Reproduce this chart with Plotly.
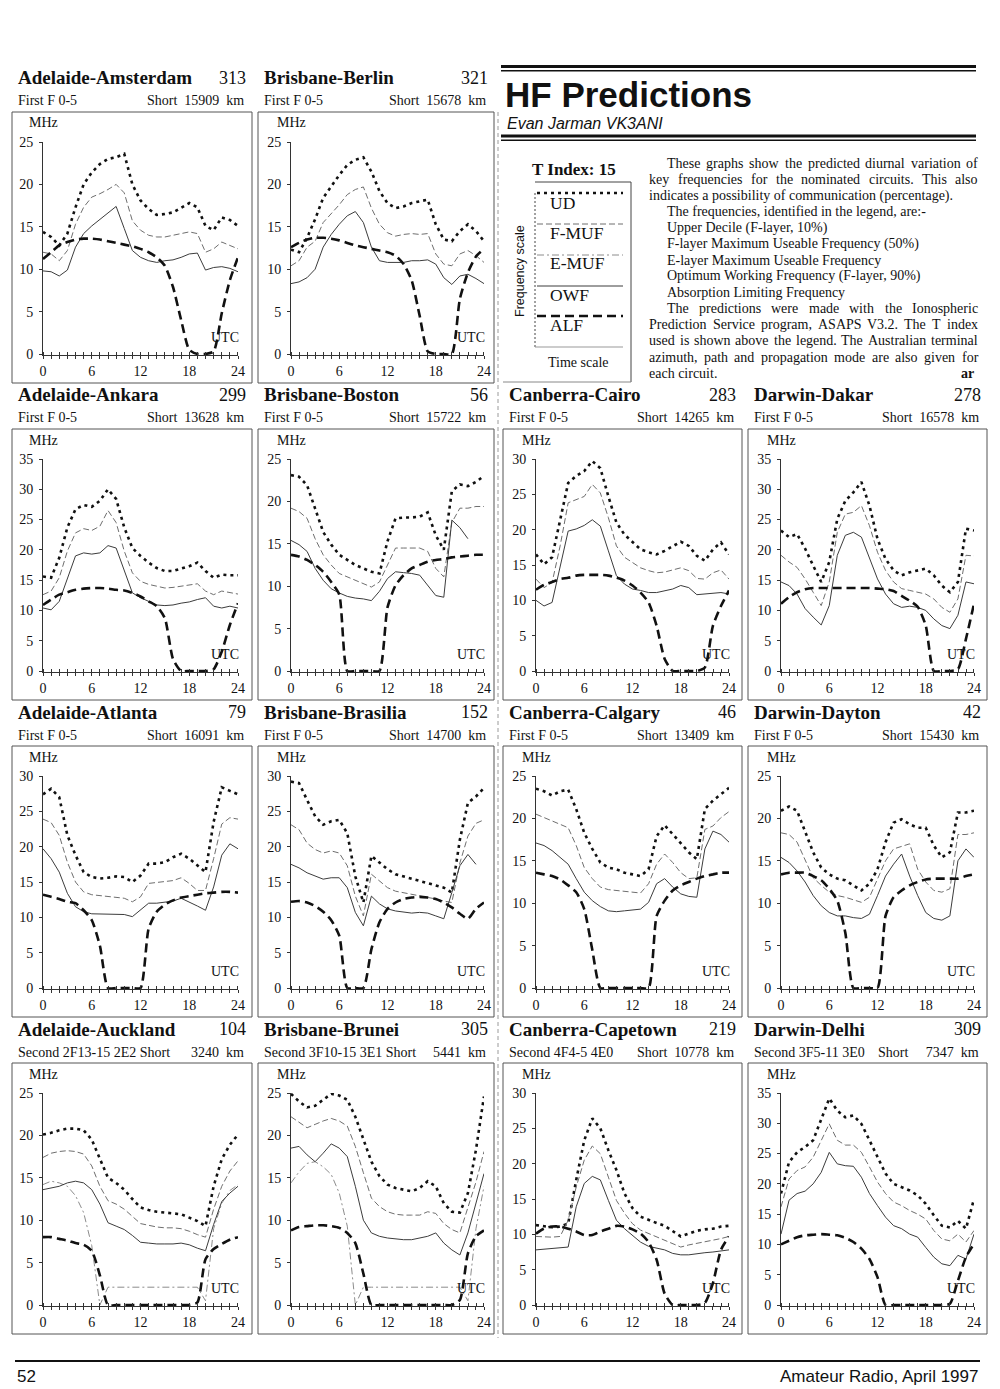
"""
HF Predictions - Amateur Radio, April 1997, page 52.

Quatorze petits graphes de prévision HF (UD, F-MUF, E-MUF, OWF, ALF)
sur 24 heures UTC, avec l'en-tête, la légende et le texte de la page.
"""

import plotly.graph_objects as go

#### Données

HOURS = list(range(25))
HOUR_TEXT = [str(h) if h % 6 == 0 else "" for h in HOURS]

# Adelaide-Amsterdam
ams_ud = [14.4, 13.8, 12.8, 14.2, 17.3, 20.0, 21.4, 22.4, 23.0, 23.2, 23.6, 20.0, 18.1,
          17.1, 16.4, 16.5, 16.7, 17.3, 17.8, 17.3, 15.1, 14.6, 16.1, 15.8, 15.1]
ams_fmuf = [12.0, 11.8, 11.0, 12.2, 15.3, 17.3, 18.5, 18.9, 19.4, 20.0, 19.0, 15.7, 14.6,
            14.0, 13.8, 13.8, 14.0, 14.2, 14.4, 14.2, 12.0, 12.4, 13.2, 12.8, 12.4]
ams_owf = [9.8, 9.7, 9.2, 9.9, 12.6, 14.2, 15.1, 15.9, 16.7, 17.4, 14.8, 12.2, 11.4,
           11.0, 10.8, 11.0, 11.1, 11.4, 11.8, 11.9, 9.9, 10.2, 10.3, 10.1, 9.7]
ams_alf = [11.2, 12.0, 12.8, 13.2, 13.5, 13.6, 13.6, 13.5, 13.3, 13.1, 12.9, 12.7, 12.4,
           12.0, 11.4, 10.4, 7.9, 4.0, 0.5, 0, 0, 0.3, 4.8, 8.7, 11.4]

# Brisbane-Berlin
ber_ud = [12.3, 12.0, 13.7, 15.9, 18.4, 19.8, 21.1, 22.3, 22.9, 23.2, 21.5, 19.2, 17.8,
          17.2, 17.4, 17.8, 18.0, 18.2, 15.3, 13.5, 13.3, 14.5, 15.3, 14.5, 13.3]
ber_fmuf = [10.4, 11.0, 12.6, 13.3, 15.5, 16.5, 17.6, 18.8, 19.4, 19.7, 17.2, 15.3, 14.3,
            13.9, 14.1, 14.2, 14.1, 14.2, 11.8, 10.6, 10.4, 11.8, 12.2, 11.6, 10.8]
ber_owf = [8.3, 8.5, 9.0, 10.0, 12.6, 14.1, 15.3, 16.3, 16.8, 15.5, 12.6, 11.0, 10.8,
           10.8, 10.8, 11.0, 11.0, 11.1, 10.6, 9.0, 8.2, 9.2, 9.4, 8.9, 8.3]
ber_alf = [12.6, 13.1, 13.5, 13.7, 13.7, 13.6, 13.4, 13.1, 12.8, 12.6, 12.4, 12.2, 12.0,
           11.6, 10.6, 8.7, 4.5, 0.3, 0, 0, 0, 6.5, 9.6, 11.5, 12.4]

# Adelaide-Ankara
ank_ud = [15.6, 15.4, 18.7, 23.7, 26.7, 27.4, 27.1, 28.1, 30.0, 28.4, 23.7, 20.3, 19.0,
          17.9, 17.0, 16.5, 16.5, 16.9, 17.3, 17.9, 16.5, 15.4, 15.9, 15.8, 15.8]
ank_fmuf = [12.6, 13.2, 15.4, 19.8, 22.8, 23.5, 23.2, 23.9, 26.5, 24.5, 19.8, 16.2, 14.8,
            14.3, 14.0, 13.7, 13.8, 14.0, 14.3, 14.4, 13.2, 12.6, 13.2, 12.9, 12.7]
ank_owf = [10.4, 10.1, 11.5, 15.4, 19.0, 19.5, 19.3, 19.5, 20.7, 20.3, 16.5, 12.9, 12.1,
           11.5, 10.9, 10.8, 10.9, 11.2, 11.4, 11.8, 12.1, 10.7, 10.4, 10.7, 10.4]
ank_alf = [10.9, 11.8, 12.6, 13.0, 13.4, 13.6, 13.7, 13.7, 13.6, 13.4, 13.3, 12.9, 12.3,
           11.5, 10.7, 8.7, 2.0, 0, 0, 0, 0, 0.3, 3.2, 7.6, 11.2]

# Brisbane-Boston
bos_ud = [23.1, 22.9, 21.9, 19.2, 16.4, 14.9, 13.7, 13.1, 12.5, 12.1, 11.7, 11.5, 15.3,
          18.0, 18.1, 18.1, 18.2, 18.7, 16.0, 14.3, 21.2, 22.0, 21.8, 22.3, 23.0]
bos_fmuf = [19.2, 18.8, 18.0, 15.6, 13.7, 12.5, 11.5, 11.1, 10.7, 10.3, 9.9, 10.5, 12.5,
            14.5, 14.5, 14.5, 14.5, 14.1, 12.1, 11.1, 17.5, 19.2, 19.2, 19.4, 19.4]
bos_owf = [15.4, 14.9, 14.1, 12.1, 10.7, 9.7, 9.2, 8.8, 8.6, 8.5, 8.3, 9.4, 10.9,
           11.7, 11.6, 11.5, 11.3, 10.1, 8.9, 8.7, 17.8, 16.9, 15.6, None, None]
bos_alf = [13.7, 13.5, 13.1, 12.5, 11.7, 10.5, 9.0, 0, 0, 0, 0, 0, 7.5,
           10.1, 11.3, 12.1, 12.5, 12.9, 13.1, 13.2, 13.4, 13.5, 13.6, 13.7, 13.7]

# Canberra-Cairo
cai_ud = [16.5, 15.1, 16.1, 21.5, 26.6, 27.6, 28.3, 29.7, 28.7, 24.7, 21.0, 19.3, 18.2,
          17.2, 16.8, 16.5, 17.0, 17.7, 18.3, 17.7, 16.3, 15.6, 17.2, 18.2, 16.5]
cai_fmuf = [13.0, 11.8, 12.5, 17.7, 23.8, 24.3, 24.7, 26.4, 25.2, 21.7, 17.7, 16.1, 15.4,
            14.6, 14.2, 13.9, 14.0, 14.3, 14.6, 14.2, 13.1, 13.0, 13.9, 14.3, 13.0]
cai_owf = [10.0, 9.2, 9.7, 14.9, 19.8, 20.1, 20.6, 21.4, 20.5, 17.0, 13.5, 12.3, 11.6,
           11.4, 11.1, 11.1, 11.4, 11.6, 12.1, 11.8, 10.8, 10.9, 11.0, 11.1, 10.9]
cai_alf = [11.5, 12.2, 12.6, 13.0, 13.2, 13.5, 13.6, 13.6, 13.6, 13.5, 13.2, 12.8, 12.1,
           11.1, 9.7, 6.4, 1.7, 0, 0, 0, 0, 0.5, 6.4, 9.2, 11.4]

# Darwin-Dakar
dak_ud = [23.2, 22.1, 22.6, 20.2, 17.4, 14.7, 18.0, 25.1, 28.1, 29.5, 31.2, 27.3, 21.8,
          18.5, 16.6, 15.8, 16.3, 16.6, 16.9, 15.8, 14.1, 13.0, 14.7, 23.5, 23.2]
dak_fmuf = [19.1, 18.0, 17.1, 15.2, 13.0, 10.8, 14.7, 22.9, 25.9, 26.2, 27.3, 24.0, 19.6,
            16.6, 14.7, 13.6, 13.3, 13.0, 12.7, 11.9, 10.5, 9.7, 11.9, 19.1, 19.0]
dak_owf = [14.7, 14.1, 12.7, 10.3, 8.9, 7.6, 10.8, 19.1, 22.4, 22.9, 22.1, 18.5, 15.2,
           12.7, 11.1, 10.5, 10.7, 10.5, 10.0, 8.6, 7.5, 7.0, 9.2, 14.7, 14.4]
dak_alf = [11.1, 12.2, 13.0, 13.5, 13.7, 13.7, 13.7, 13.7, 13.7, 13.7, 13.7, 13.7, 13.6,
           13.5, 13.2, 12.4, 11.6, 10.6, 7.5, 0, 0, 0, 0.3, 5.3, 11.1]

# Adelaide-Atlanta
atl_ud = [27.4, 28.2, 27.0, 21.6, 18.8, 16.4, 15.7, 15.5, 15.6, 15.8, 15.7, 15.0, 15.9,
          17.6, 17.6, 17.8, 18.5, 19.0, 18.3, 17.3, 16.4, 23.5, 28.4, 27.9, 27.4]
atl_fmuf = [23.9, 23.4, 21.6, 17.8, 15.0, 13.6, 13.2, 13.1, 13.0, 12.9, 12.7, 12.2, 12.9,
            14.8, 14.9, 15.0, 15.2, 15.6, 14.8, 13.8, 13.8, 18.3, 23.2, 24.1, 23.9]
atl_owf = [19.7, 18.3, 16.4, 13.4, 11.5, 10.8, 10.5, 10.5, 10.4, 10.5, 10.4, 10.1, 11.0,
           12.0, 12.0, 12.1, 12.3, 12.7, 12.2, 11.6, 11.0, 14.3, 18.8, 20.4, 19.7]
atl_alf = [13.2, 12.9, 12.6, 12.2, 12.0, 11.0, 9.6, 6.0, 0, 0, 0, 0, 0,
           8.4, 10.8, 11.8, 12.4, 12.8, 13.0, 13.2, 13.4, 13.5, 13.6, 13.6, 13.5]

# Brisbane-Brasilia
bra_ud = [29.2, 29.0, 26.6, 24.3, 23.1, 23.6, 23.8, 21.9, 15.8, 12.1, 18.7, 17.7, 16.8,
          16.1, 15.8, 15.4, 15.1, 14.9, 14.5, 14.2, 13.5, 21.0, 26.2, 27.1, 28.3]
bra_fmuf = [23.1, 22.4, 20.5, 19.6, 19.1, 19.4, 19.1, 17.3, 13.0, 10.2, 16.1, 15.1, 14.2,
            13.7, 13.5, 13.3, 13.0, 12.8, 12.6, 12.3, 12.1, 17.7, 21.5, 23.3, 23.8]
bra_owf = [17.5, 17.0, 16.3, 15.8, 15.4, 15.6, 15.6, 14.2, 10.7, 8.8, 13.0, 11.9, 11.2,
           10.9, 10.7, 10.6, 10.7, 10.6, 10.2, 9.8, 13.5, 17.3, 18.9, 17.5, None]
bra_alf = [12.2, 12.3, 12.1, 11.6, 10.8, 9.6, 7.4, 0, 0, 0, 5.5, 9.3, 11.2,
           12.1, 12.6, 12.8, 12.9, 12.8, 12.6, 12.1, 11.4, 10.5, 9.8, 11.2, 12.1]

# Canberra-Calgary
cal_ud = [23.5, 23.2, 22.7, 23.2, 23.4, 21.1, 18.3, 16.4, 14.8, 14.2, 14.0, 13.6, 13.4,
          13.2, 14.0, 17.9, 19.2, 18.1, 17.0, 16.0, 15.2, 21.1, 22.1, 22.8, 23.6]
cal_fmuf = [20.5, 20.1, 19.7, 19.3, 18.9, 16.8, 14.2, 12.9, 11.9, 11.6, 11.5, 11.4, 11.3,
            11.2, 12.3, 14.6, 15.8, 14.8, 13.6, 12.9, 13.0, 18.7, 19.1, 20.1, 20.8]
cal_owf = [17.1, 16.8, 16.2, 15.4, 14.6, 12.9, 11.3, 10.3, 9.6, 9.1, 9.0, 9.1, 9.2,
           9.3, 10.1, 12.3, 12.9, 11.9, 11.1, 10.8, 10.7, 16.4, 18.5, 18.1, 17.2]
cal_alf = [13.6, 13.4, 13.2, 12.8, 12.1, 11.3, 9.3, 4.5, 0, 0, 0, 0, 0,
           0, 0, 8.5, 10.3, 11.5, 12.1, 12.5, 12.9, 13.2, 13.4, 13.6, 13.6]

# Darwin-Dayton
day_ud = [20.9, 21.4, 20.9, 18.5, 16.0, 14.2, 13.4, 12.9, 12.7, 12.1, 11.5, 12.3, 14.0,
          17.2, 19.5, 19.9, 19.3, 18.9, 18.9, 16.8, 15.4, 16.0, 20.7, 20.7, 20.9]
day_fmuf = [18.3, 18.1, 17.2, 15.0, 13.0, 12.1, 11.3, 10.9, 10.7, 10.4, 10.1, 10.7, 12.9,
            15.0, 16.4, 16.7, 17.0, 14.0, 12.5, 11.5, 11.3, 11.7, 18.1, 18.1, 18.3]
day_owf = [15.4, 14.8, 13.8, 12.5, 10.9, 9.7, 8.9, 8.5, 8.5, 8.3, 8.2, 8.7, 10.9,
           13.2, 14.6, 15.8, 13.2, 10.9, 8.9, 8.2, 8.0, 8.5, 15.0, 16.4, 15.4]
day_alf = [13.4, 13.6, 13.6, 13.6, 13.2, 12.7, 11.7, 10.3, 6.5, 0, 0, 0, 0,
           8.5, 10.7, 11.5, 12.1, 12.5, 12.8, 12.9, 12.9, 12.9, 12.9, 13.2, 13.4]

# Adelaide-Auckland
auk_ud = [20.1, 20.3, 20.6, 20.8, 20.8, 20.6, 19.5, 17.2, 15.0, 14.4, 13.6, 12.5, 11.5,
          11.2, 11.0, 10.9, 10.8, 10.7, 10.3, 9.9, 9.3, 14.0, 17.2, 18.9, 20.1]
auk_fmuf = [17.4, 17.9, 18.1, 18.2, 18.1, 17.8, 16.4, 14.0, 12.3, 11.9, 11.3, 10.5, 9.6,
            9.4, 9.2, 9.1, 9.1, 9.0, 8.7, 8.3, 8.0, 11.3, 14.0, 15.8, 17.0]
auk_emuf = [14.2, 14.6, 14.4, 14.0, 12.9, 10.9, 7.0, 0, 2.1, 2.1, 2.1, 2.1, 2.1,
            2.1, 2.1, 2.1, 2.1, 2.1, 2.1, 2.1, 0.5, 9.0, 12.0, 13.5, 14.2]
auk_owf = [13.6, 13.8, 14.0, 14.4, 14.6, 14.4, 13.6, 11.9, 9.7, 9.3, 8.9, 8.2, 7.4,
           7.3, 7.2, 7.2, 7.2, 7.3, 7.1, 6.7, 6.4, 9.5, 12.2, 13.2, 14.0]
auk_alf = [8.0, 8.0, 7.8, 7.6, 7.3, 7.1, 6.4, 3.5, 0, 0, 0, 0, 0,
           0, 0, 0, 0, 0, 0, 0.3, 5.4, 6.6, 7.2, 7.7, 8.0]

# Brisbane-Brunei
bru_ud = [24.9, 24.0, 23.3, 23.5, 24.2, 24.9, 24.7, 24.2, 22.2, 19.5, 16.9, 15.2, 14.2,
          13.8, 13.6, 13.4, 13.8, 14.6, 14.0, 12.0, 11.0, 10.9, 13.2, 18.3, 24.6]
bru_fmuf = [22.2, 21.5, 20.9, 21.3, 21.7, 22.0, 21.7, 21.1, 18.7, 15.6, 12.6, 11.6, 11.0,
            10.7, 10.6, 10.6, 10.6, 11.0, 10.8, 9.6, 8.9, 8.5, 11.6, 14.5, 18.1]
bru_emuf = [14.4, 15.7, 16.7, 16.9, 16.3, 15.4, 13.2, 9.3, 0, 2.1, 2.1, 2.1, 2.1,
            2.1, 2.1, 2.1, 2.1, 2.1, 2.1, 2.1, 2.1, 2.1, 0.5, 9.0, 14.0]
bru_owf = [18.5, 18.7, 17.7, 16.9, 17.9, 19.0, 18.5, 17.5, 14.0, 10.0, 8.5, 8.1, 7.9,
           7.8, 7.7, 7.7, 7.9, 8.1, 8.5, 7.3, 6.5, 5.9, 8.5, 12.0, 15.5]
bru_alf = [8.8, 9.2, 9.3, 9.4, 9.4, 9.3, 9.1, 8.5, 7.3, 3.7, 0, 0, 0,
           0, 0, 0, 0, 0, 0, 0, 0, 0.6, 6.1, 8.1, 8.8]

# Canberra-Capetown
cap_ud = [11.3, 11.1, 11.0, 11.1, 11.5, 17.7, 23.3, 26.4, 25.0, 21.9, 19.1, 15.8, 13.7,
          12.5, 12.0, 11.6, 11.2, 10.4, 9.7, 10.1, 10.5, 10.7, 10.8, 11.1, 11.2]
cap_fmuf = [9.7, 9.6, 9.6, 9.7, 12.0, 16.7, 20.5, 22.5, 21.4, 18.1, 14.8, 13.0, 11.5,
            10.6, 10.1, 9.7, 9.2, 8.6, 8.2, 8.5, 8.7, 8.9, 9.2, 9.4, 9.7]
cap_owf = [7.8, 7.9, 8.0, 8.1, 8.2, 13.9, 17.2, 18.2, 17.7, 14.8, 12.0, 10.8, 9.9,
           8.9, 8.3, 8.0, 7.8, 7.3, 7.1, 7.1, 7.3, 7.4, 7.5, 7.7, 7.8]
cap_alf = [10.1, 10.8, 11.1, 11.1, 10.8, 10.4, 9.9, 9.9, 10.4, 10.8, 11.2, 11.1, 10.7,
           10.1, 8.9, 6.4, 1.6, 0, 0, 0, 0, 0.3, 3.1, 7.8, 9.7]

# Darwin-Delhi
del_ud = [18.4, 23.6, 25.2, 26.1, 27.2, 30.5, 34.1, 32.1, 31.0, 31.3, 29.9, 27.2, 24.4,
          21.7, 20.0, 19.5, 18.9, 18.1, 16.7, 14.8, 13.1, 12.8, 13.9, 12.6, 17.5]
del_fmuf = [16.2, 20.8, 22.2, 22.8, 24.4, 27.2, 29.9, 27.2, 26.4, 26.4, 25.2, 22.8, 20.3,
            18.4, 17.0, 16.4, 15.6, 15.0, 14.2, 12.3, 10.9, 10.6, 11.7, 10.4, 12.3]
del_owf = [11.7, 17.3, 18.4, 18.8, 20.0, 21.9, 25.2, 23.3, 23.0, 22.9, 21.1, 18.4, 16.4,
           14.5, 13.1, 12.6, 11.7, 11.2, 9.5, 7.9, 6.8, 6.5, 8.2, 7.6, 11.7]
del_alf = [10.0, 10.6, 11.2, 11.5, 11.6, 11.7, 11.6, 11.5, 11.1, 10.4, 9.3, 7.6, 4.6,
           0, 0, 0, 0, 0, 0, 0, 0, 0.2, 4.0, 7.9, 10.1]

CIRCUITS = ["Adelaide-Amsterdam", "Brisbane-Berlin",
            "Adelaide-Ankara", "Brisbane-Boston", "Canberra-Cairo", "Darwin-Dakar",
            "Adelaide-Atlanta", "Brisbane-Brasilia", "Canberra-Calgary", "Darwin-Dayton",
            "Adelaide-Auckland", "Brisbane-Brunei", "Canberra-Capetown", "Darwin-Delhi"]
AZIMUTHS = ["313", "321", "299", "56", "283", "278", "79", "152", "46", "42",
            "104", "305", "219", "309"]
MODES = ["First F 0-5"] * 10 + ["Second 2F13-15 2E2 Short", "Second 3F10-15 3E1 Short",
                                "Second 4F4-5 4E0", "Second 3F5-11 3E0"]
PATHS = ["Short  15909  km", "Short  15678  km", "Short  13628  km", "Short  15722  km",
         "Short  14265  km", "Short  16578  km", "Short  16091  km", "Short  14700  km",
         "Short  13409  km", "Short  15430  km", "3240  km", "5441  km",
         "Short  10778  km", "Short     7347  km"]
Y_MAX = [25, 25, 35, 25, 30, 35, 30, 30, 25, 25, 25, 25, 30, 35]

SERIES = [
    (ams_ud, ams_fmuf, None, ams_owf, ams_alf),
    (ber_ud, ber_fmuf, None, ber_owf, ber_alf),
    (ank_ud, ank_fmuf, None, ank_owf, ank_alf),
    (bos_ud, bos_fmuf, None, bos_owf, bos_alf),
    (cai_ud, cai_fmuf, None, cai_owf, cai_alf),
    (dak_ud, dak_fmuf, None, dak_owf, dak_alf),
    (atl_ud, atl_fmuf, None, atl_owf, atl_alf),
    (bra_ud, bra_fmuf, None, bra_owf, bra_alf),
    (cal_ud, cal_fmuf, None, cal_owf, cal_alf),
    (day_ud, day_fmuf, None, day_owf, day_alf),
    (auk_ud, auk_fmuf, auk_emuf, auk_owf, auk_alf),
    (bru_ud, bru_fmuf, bru_emuf, bru_owf, bru_alf),
    (cap_ud, cap_fmuf, None, cap_owf, cap_alf),
    (del_ud, del_fmuf, None, del_owf, del_alf),
]
SERIES_NAMES = ["UD", "F-MUF", "E-MUF", "OWF", "ALF"]

BODY_LINES = [
    ("These graphs show the predicted diurnal variation of", True, True),
    ("key frequencies for the nominated circuits. This also", False, True),
    ("indicates a possibility of communication (percentage).", False, False),
    ("The frequencies, identified in the legend, are:-", True, False),
    ("Upper Decile (F-layer, 10%)", True, False),
    ("F-layer Maximum Useable Frequency (50%)", True, False),
    ("E-layer Maximum Useable Frequency", True, False),
    ("Optimum Working Frequency (F-layer, 90%)", True, False),
    ("Absorption Limiting Frequency", True, False),
    ("The predictions were made with the Ionospheric", True, True),
    ("Prediction Service program, ASAPS V3.2. The T index", False, True),
    ("used is shown above the legend. The Australian terminal", False, True),
    ("azimuth, path and propagation mode are also given for", False, True),
    ("each circuit.", False, False),
]

#### Mise en page

# la page html garde une marge de 8 px : la figure fait 992 x 1381 et les
# positions ci-dessous sont celles de la page (décalées de 8 px)
PAGE_MARGIN = 8
W, H = 1000 - PAGE_MARGIN, 1389 - PAGE_MARGIN
SERIF = "Liberation Serif"
SANS = "Liberation Sans"
INK = "#111111"

COL_LEFT = [12, 258, 503, 748]
COL_RIGHT = [252, 494, 742, 987]
ROW_TOP = [112, 429, 746, 1063]
SLOTS = [(0, 0), (0, 1), (1, 0), (1, 1), (1, 2), (1, 3), (2, 0), (2, 1), (2, 2), (2, 3),
         (3, 0), (3, 1), (3, 2), (3, 3)]

STYLES = {
    "UD": dict(color=INK, width=2.6, dash="3px,4px"),
    "F-MUF": dict(color="#6e6e6e", width=1, dash="6px,3px"),
    "E-MUF": dict(color="#8c8c8c", width=1, dash="7px,3px,2px,3px"),
    "OWF": dict(color="#3c3c3c", width=1),
    "ALF": dict(color=INK, width=2.6, dash="9px,5px"),
}

# petites graduations qui traversent l'axe des heures (côté intérieur)
INNER_TICKS = [h + 0.01 for h in HOURS[:-1]] + [HOURS[-1] - 0.01]

# largeurs Times (1/1000 em) pour justifier le texte
CHAR_W = {}
for chars, w in [(" .,", 250), ("ijlt:;", 278), ("fr()-I", 333), ("sJ", 389),
                 ("acez", 444), ("bdghknopquvxy0123456789", 500), ("FPS", 556),
                 ("ETLZ", 611), ("BCR", 667), ("ADGHKNOUVXYw", 722), ("m", 778),
                 ("%", 833), ("M", 889), ("W", 944)]:
    for ch in chars:
        CHAR_W[ch] = w


def fx(x):
    return (x - PAGE_MARGIN) / W


def fy(y):
    return 1 - (y - PAGE_MARGIN) / H


def text_w(s, size):
    return sum(CHAR_W.get(ch, 500) for ch in s) * size / 1000


def note(fig, x, y, text, size, family=SERIF, anchor="left", **kw):
    fig.add_annotation(x=fx(x), y=fy(y), xref="paper", yref="paper", text=text,
                       showarrow=False, xanchor=anchor, yanchor="middle",
                       font=dict(family=family, size=size, color=INK), **kw)


def hline(fig, x0, x1, y, **line):
    fig.add_shape(type="line", xref="paper", yref="paper",
                  x0=fx(x0), x1=fx(x1), y0=fy(y), y1=fy(y), line=line)


def block(fig, x0, x1, y0, y1, color=INK):
    fig.add_shape(type="rect", xref="paper", yref="paper", x0=fx(x0), x1=fx(x1),
                  y0=fy(y1), y1=fy(y0), line=dict(width=0), fillcolor=color)


fig = go.Figure()
layout = {}
NB = "\u00a0"

for i, (r, c) in enumerate(SLOTS):
    k = i + 1
    sx = "" if k == 1 else str(k)
    left, right, top = COL_LEFT[c], COL_RIGHT[c], ROW_TOP[r]
    x0 = left + (31 if c == 0 else 33)
    x24 = left + 226
    ytop, ybot = top + 30, top + 242
    ymax = Y_MAX[i]
    pad = 0.15
    bottom = ybot + pad * (ybot - ytop) / ymax

    for name, values in zip(SERIES_NAMES, SERIES[i]):
        if values is None:
            continue
        fig.add_trace(go.Scatter(
            x=HOURS, y=values, mode="lines", name=name, showlegend=False,
            line=dict(STYLES[name], shape="spline" if name == "ALF" else "linear",
                      smoothing=0.6),
            xaxis="x" + sx, yaxis="y" + sx, hoverinfo="skip"))

    layout["xaxis" + sx] = dict(
        domain=[fx(x0), fx(x24)], range=[0, 24], anchor="y" + sx, automargin=False,
        tickmode="array", tickvals=HOURS, ticktext=HOUR_TEXT,
        ticks="outside", ticklen=3, tickcolor="#333", showline=True,
        minor=dict(tickmode="array", tickvals=INNER_TICKS, ticks="inside",
                   ticklen=3, tickcolor="#333"),
        linecolor="#333", linewidth=1, showgrid=False, zeroline=False,
        tickfont=dict(family=SERIF, size=14, color=INK))
    layout["yaxis" + sx] = dict(
        domain=[fy(bottom), fy(ytop)], range=[-pad, ymax], anchor="x" + sx,
        automargin=False, tickmode="array", tickvals=list(range(0, ymax + 1, 5)),
        ticks="outside", ticklen=3, tickcolor="#333", showline=True,
        linecolor="#333", linewidth=1, showgrid=False, zeroline=False,
        ticklabelstandoff=3, tickfont=dict(family=SERIF, size=14, color=INK))

    # cadre, titres et étiquettes
    fig.add_shape(type="rect", xref="paper", yref="paper", x0=fx(left), x1=fx(right),
                  y0=fy(top + 271), y1=fy(top), line=dict(color="#555", width=1))
    note(fig, left + 4, top - 34, "<b>" + CIRCUITS[i] + "</b>", 19)
    note(fig, right - 4, top - 34, AZIMUTHS[i], 18, anchor="right")
    note(fig, left + 4, top - 11, MODES[i], 14)
    note(fig, right - 6, top - 11, PATHS[i].replace(" ", NB), 14, anchor="right")
    note(fig, x0, top + 11, "MHz", 14, anchor="center")
    note(fig, x24 + 3, ybot - 17, "UTC", 14, anchor="right")

# en-tête
block(fig, 501, 976, 65, 68)
block(fig, 501, 976, 70, 71.6)
block(fig, 501, 976, 134.5, 137.5)
block(fig, 501, 976, 139.5, 141)
note(fig, 503, 94, "<b>HF Predictions</b>", 35, family=SANS)
note(fig, 505, 124, "<i>Evan Jarman VK3ANI</i>", 16, family=SANS)

# filet de colonne (scan)
fig.add_shape(type="line", xref="paper", yref="paper", x0=fx(498), x1=fx(498),
              y0=fy(112), y1=fy(1338), line=dict(color="#9a9a9a", width=1, dash="4px,3px"))

# légende
note(fig, 574, 170, "<b>T Index: 15</b>", 17, anchor="center")
hline(fig, 535, 631, 182, color="#444", width=1)
fig.add_shape(type="line", xref="paper", yref="paper", x0=fx(631), x1=fx(631),
              y0=fy(182), y1=fy(382), line=dict(color="#444", width=1))
hline(fig, 503, 631, 382, color="#888", width=1)
fig.add_shape(type="line", xref="paper", yref="paper", x0=fx(535), x1=fx(535),
              y0=fy(193), y1=fy(347), line=dict(color="#444", width=1, dash="2px,2px"))
legend_rows = [("UD", 193, 203), ("F-MUF", 224, 233), ("E-MUF", 255, 263),
               ("OWF", 286, 295), ("ALF", 316, 325)]
for name, ly, ty in legend_rows:
    st = STYLES[name]
    hline(fig, 537, 623, ly, **st)
    note(fig, 548, ty, name, 17.5)
hline(fig, 535, 623, 347, color="#999", width=1)
note(fig, 578, 362, "Time scale", 14, anchor="center")
note(fig, 520, 271, "Frequency scale", 12.5, family=SANS, anchor="center", textangle=-90)

# texte
BODY_SIZE = 14
for n, (line, indent, justify) in enumerate(BODY_LINES):
    y = 163.3 + n * 16.15
    xl = 665 if indent else 647
    if not justify:
        note(fig, xl, y, line, BODY_SIZE)
        continue
    words = line.split(" ")
    widths = [text_w(w, BODY_SIZE) for w in words]
    gap = (976 - xl - sum(widths)) / (len(words) - 1)
    x = xl
    for w, wd in zip(words, widths):
        note(fig, x, y, w, BODY_SIZE)
        x += wd + gap
note(fig, 976, 163.3 + 13 * 16.15, "<b>ar</b>", BODY_SIZE, anchor="right")

# pied de page
block(fig, 15, 980, 1360, 1362)
note(fig, 15, 1376, "52", 17, family=SANS)
note(fig, 980, 1376, "Amateur Radio, April 1997", 17, family=SANS, anchor="right")

fig.update_layout(template="none", width=W, height=H,
                  margin=dict(l=0, r=0, t=0, b=0, pad=0, autoexpand=False),
                  paper_bgcolor="white", plot_bgcolor="white", showlegend=False,
                  **layout)
fig.write_html("out.html")
